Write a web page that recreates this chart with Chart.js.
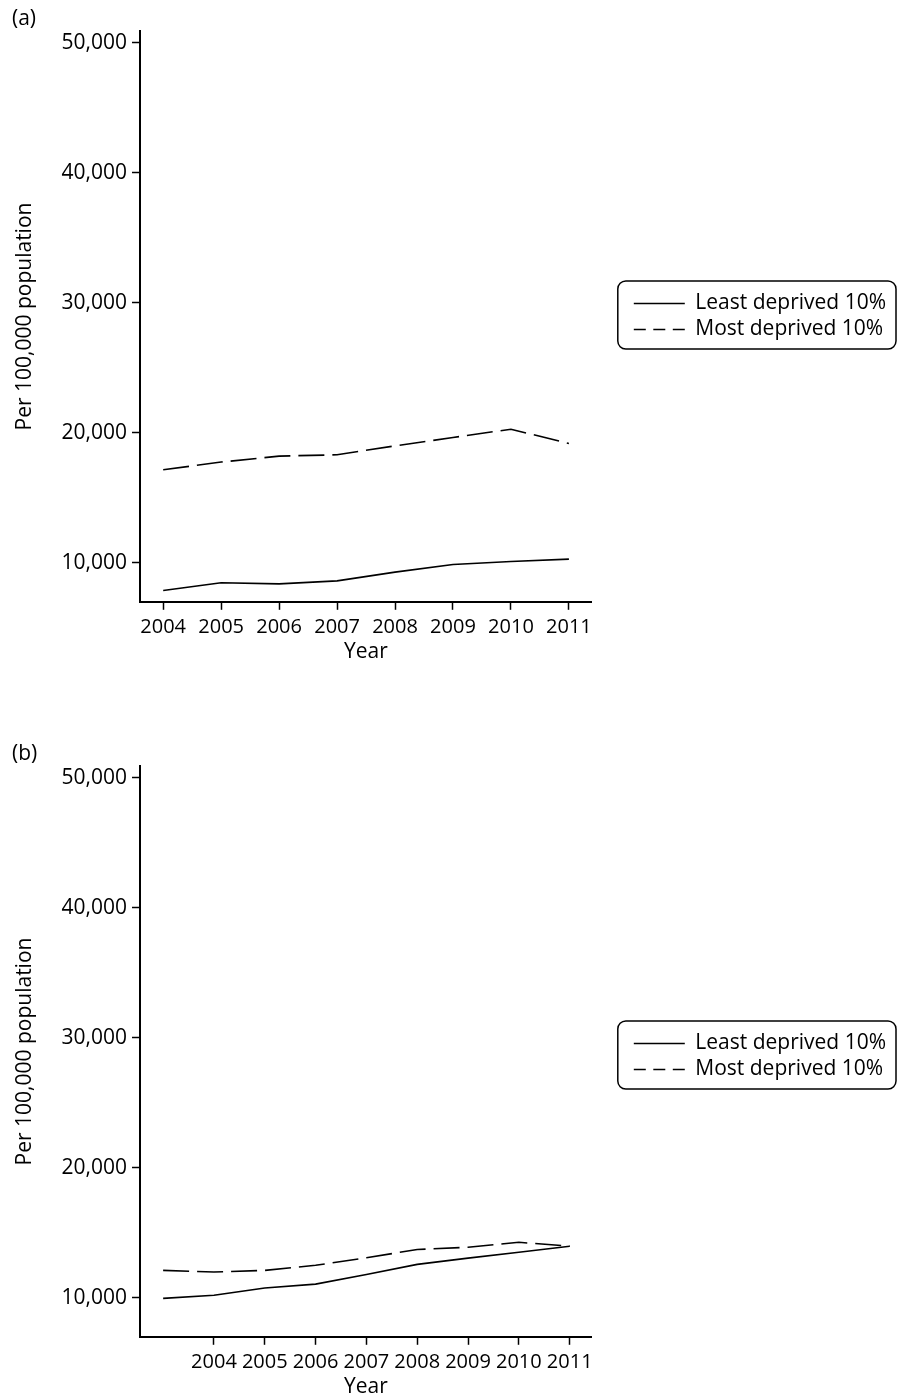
<!DOCTYPE html>
<html>
<head>
<meta charset="utf-8">
<script src="https://cdn.jsdelivr.net/npm/chart.js@4.4.1/dist/chart.umd.min.js"></script>
<style>
  html, body { margin: 0; padding: 0; background: #fff; overflow: hidden; }
  .panel { position: absolute; left: 0; width: 898px; }
  #wrapA { top: 0; height: 673px; }
  #wrapB { top: 735px; height: 673px; }
</style>
</head>
<body>
<div class="panel" id="wrapA"><canvas id="chartA"></canvas></div>
<div class="panel" id="wrapB"><canvas id="chartB"></canvas></div>
<script>
// panel (a)
const yearsA = [2004, 2005, 2006, 2007, 2008, 2009, 2010, 2011];
const leastA = [7870, 8460, 8380, 8610, 9280, 9870, 10100, 10280];
const mostA = [17160, 17750, 18210, 18310, 19000, 19640, 20280, 19180];

// panel (b) - first point sits one step before 2004, with no label
const yearsB = [2003, 2004, 2005, 2006, 2007, 2008, 2009, 2010, 2011];
const leastB = [9960, 10200, 10760, 11050, 11790, 12570, 13050, 13510, 13970];
const mostB = [12110, 11980, 12110, 12500, 13080, 13720, 13890, 14270, 13970];

// tick labels
const xTickYears = [2004, 2005, 2006, 2007, 2008, 2009, 2010, 2011];
const yTickValues = [10000, 20000, 30000, 40000, 50000];
const seriesNames = ['Least deprived 10%', 'Most deprived 10%'];

const LEGEND_GAP = 37; // space between plot and legend

Chart.defaults.font.family = '"Open Sans", sans-serif';
Chart.defaults.font.size = 21;
Chart.defaults.color = '#000';

// let the legend be as wide as its text, push it away from the plot,
// and draw a rounded frame around it
const legendFrame = {
  id: 'legendFrame',
  beforeLayout(chart) {
    const lg = chart.legend;
    if (!lg || lg._wide) return;
    const fit = lg.fit;
    lg.fit = function () {
      fit.call(this);
      if (this.columnSizes && this.columnSizes.length) {
        this.width = LEGEND_GAP + this.options.labels.padding + this.columnSizes[0].width + 10;
      }
    };
    lg._wide = true;
  },
  afterLayout(chart, args, opts) {
    const lg = chart.legend;
    lg.left += LEGEND_GAP;
    lg.top += opts.shiftY || 0;
    lg.bottom += opts.shiftY || 0;
  },
  afterDraw(chart) {
    const boxes = chart.legend.legendHitBoxes;
    if (!boxes || !boxes.length) return;
    const first = boxes[0], last = boxes[boxes.length - 1];
    const w = Math.max(...boxes.map(b => b.width));
    const x0 = first.left - 16, y0 = first.top - 12;
    const x1 = Math.min(first.left + w + 10, chart.width - 1), y1 = last.top + last.height + 9;
    const ctx = chart.ctx;
    ctx.save();
    ctx.strokeStyle = '#000';
    ctx.lineWidth = 1.5;
    ctx.beginPath();
    ctx.roundRect(x0, y0, x1 - x0, y1 - y0, 8);
    ctx.stroke();
    ctx.restore();
  }
};

function makeChart(id, tag, years, least, most, xMin, xMax, legendShift) {
  const ctx = document.getElementById(id).getContext('2d');
  return new Chart(ctx, {
    type: 'line',
    data: {
      datasets: [{
        label: seriesNames[0],
        data: years.map((y, i) => ({ x: y, y: least[i] })),
        borderColor: '#000',
        borderWidth: 1.6,
        pointRadius: 0,
        tension: 0
      }, {
        label: seriesNames[1],
        data: years.map((y, i) => ({ x: y, y: most[i] })),
        borderColor: '#000',
        borderWidth: 1.6,
        borderDash: [26, 8],
        pointRadius: 0,
        tension: 0
      }]
    },
    options: {
      responsive: true,
      maintainAspectRatio: false,
      animation: false,
      layout: { padding: { left: 12, right: 2, top: 0, bottom: 0 } },
      plugins: {
        title: {
          display: true,
          text: tag,
          align: 'start',
          font: { size: 21, weight: 'normal' },
          padding: { top: 6, bottom: 0 }
        },
        legend: {
          position: 'right',
          fullSize: false,
          labels: {
            usePointStyle: true,
            pointStyleWidth: 51,
            padding: 5,
            font: { size: 21 },
            generateLabels(chart) {
              const items = Chart.defaults.plugins.legend.labels.generateLabels(chart);
              items.forEach((it, i) => {
                it.pointStyle = 'line';
                it.lineWidth = 1.5;
                it.lineDash = i === 1 ? [12, 7.5] : [];
              });
              return items;
            }
          }
        },
        legendFrame: { shiftY: legendShift },
        tooltip: { enabled: false }
      },
      scales: {
        x: {
          type: 'linear',
          min: xMin,
          max: xMax,
          afterBuildTicks(axis) { axis.ticks = xTickYears.map(v => ({ value: v })); },
          ticks: {
            autoSkip: false,
            maxRotation: 0,
            padding: 5,
            font: { size: 20 },
            callback: v => String(v)
          },
          grid: { drawOnChartArea: false, drawTicks: true, tickLength: 8, tickWidth: 1.5, tickColor: '#000' },
          border: { display: true, color: '#000', width: 2 },
          title: { display: true, text: 'Year', padding: { top: -4, bottom: 8 } }
        },
        y: {
          min: 7000,
          max: 50900,
          afterBuildTicks(axis) { axis.ticks = yTickValues.map(v => ({ value: v })); },
          afterFit(axis) { axis.width = 128; },
          ticks: {
            padding: 5,
            callback: v => v.toLocaleString('en-US')
          },
          grid: { drawOnChartArea: false, drawTicks: true, tickLength: 8, tickWidth: 1.5, tickColor: '#000' },
          border: { display: true, color: '#000', width: 2 },
          title: { display: true, text: 'Per 100,000 population', padding: { top: 0, bottom: 4 } }
        }
      }
    },
    plugins: [legendFrame]
  });
}

makeChart('chartA', '(a)', yearsA, leastA, mostA, 2003.6, 2011.395, 0);
makeChart('chartB', '(b)', yearsB, leastB, mostB, 2002.545, 2011.435, 5);
</script>
</body>
</html>
